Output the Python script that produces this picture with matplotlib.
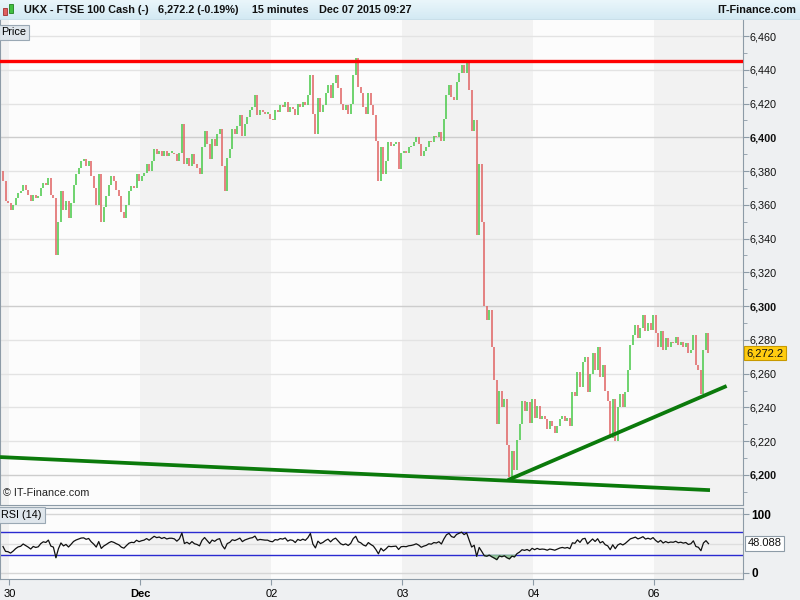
import matplotlib
matplotlib.use("Agg")
import matplotlib.pyplot as plt
import numpy as np

plt.rcParams['font.family'] = ['Liberation Sans', 'DejaVu Sans']

# 15 minute closes, FTSE 100 Cash, 27 Nov (tail) .. 07 Dec 2015
first_open = 6380
closes = [
    6374, 6362, 6361, 6357, 6360, 6364, 6367, 6368, 6372, 6369,
    6366, 6362, 6366, 6364, 6365, 6370, 6373, 6372, 6376, 6366,
    6364, 6330, 6350, 6368, 6357, 6362, 6352, 6361, 6372, 6378,
    6382, 6386, 6387, 6383, 6386, 6377, 6370, 6360, 6378, 6350,
    6359, 6365, 6372, 6377, 6374, 6369, 6365, 6356, 6352, 6360,
    6368, 6371, 6370, 6378, 6374, 6377, 6379, 6384, 6380, 6386,
    6393, 6390, 6392, 6389, 6392, 6389, 6391, 6391, 6390, 6386,
    6391, 6408, 6384, 6388, 6383, 6390, 6384, 6382, 6378, 6394,
    6404, 6396, 6387, 6399, 6395, 6402, 6405, 6383, 6368, 6388,
    6393, 6405, 6402, 6407, 6413, 6401, 6408, 6412, 6416, 6418,
    6425, 6413, 6416, 6415, 6414, 6414, 6411, 6410, 6416, 6415,
    6419, 6418, 6421, 6415, 6418, 6417, 6413, 6420, 6418, 6421,
    6419, 6425, 6437, 6414, 6402, 6423, 6415, 6419, 6426, 6431,
    6423, 6432, 6437, 6429, 6420, 6416, 6419, 6414, 6420, 6437,
    6447, 6430, 6426, 6418, 6414, 6426, 6419, 6413, 6398, 6374,
    6394, 6378, 6386, 6397, 6395, 6396, 6397, 6381, 6391, 6392,
    6391, 6394, 6395, 6397, 6400, 6396, 6389, 6392, 6394, 6398,
    6397, 6401, 6400, 6403, 6398, 6411, 6425, 6431, 6424, 6422,
    6433, 6438, 6443, 6438, 6445, 6428, 6404, 6410, 6342, 6384,
    6350, 6300, 6292, 6298, 6276, 6256, 6230, 6250, 6240, 6245,
    6218, 6199, 6214, 6203, 6221, 6230, 6244, 6238, 6243, 6231,
    6245, 6234, 6241, 6233, 6235, 6233, 6227, 6232, 6229, 6225,
    6229, 6233, 6235, 6232, 6234, 6229, 6249, 6247, 6261, 6252,
    6267, 6270, 6249, 6260, 6272, 6262, 6276, 6258, 6265, 6250,
    6244, 6222, 6245, 6220, 6240, 6248, 6240, 6249, 6262, 6277,
    6283, 6289, 6281, 6287, 6295, 6285, 6290, 6286, 6295, 6284,
    6276, 6285, 6274, 6281, 6276, 6279, 6278, 6282, 6277, 6279,
    6276, 6278, 6272, 6274, 6283, 6265, 6262, 6248, 6274, 6284,
    6272.2,
]

day_starts = [3, 55, 107, 159, 211, 259]
day_labels = ['30', 'Dec', '02', '03', '04', '06']

resistance = 6445
support_x = [-1.2, 280.6]
support_y = [6210.6, 6191.0]
rising_x = [200.4, 287.2]
rising_y = [6197.0, 6252.7]

price_ticks = list(range(6200, 6461, 20))
rsi_period = 14
rsi_last_label = '48.088'
last_label = '6,272.2'
title_parts = ['UKX - FTSE 100 Cash (-)', '6,272.2 (-0.19%)', '15 minutes', 'Dec 07 2015 09:27']
title_x = [24, 158, 252, 319]

# ---------------------------------------------------------------
W, H = 800, 600
fig = plt.figure(figsize=(8, 6), dpi=100)
fig.patch.set_facecolor('#eef0f2')

def fx(px):
    return px / W

def fy(py):
    return 1 - py / H

border = '#8d9ba7'

closes = np.array(closes, dtype=float)
opens = np.concatenate([[first_open], closes[:-1]])
idx = np.arange(len(closes))
xmin, xmax = -1.19, 293.7

# title bar
tax = fig.add_axes([0, fy(20), 1, 20 / H])
grad = np.linspace(0, 1, 50).reshape(-1, 1)
tax.imshow(grad, aspect='auto', extent=[0, W, 0, 20],
           cmap=matplotlib.colors.LinearSegmentedColormap.from_list('t', ['#eaf6fb', '#d2e9f3']))
tax.set_xlim(0, W)
tax.set_ylim(0, 20)
tax.axis('off')
tax.axhline(0.3, color='#a9b6c0', lw=1)
tax.add_patch(plt.Rectangle((3, 5), 4, 7, fc='#e06060', ec='#a03030', lw=0.6))
tax.add_patch(plt.Rectangle((9, 7), 4, 9, fc='#40c040', ec='#208020', lw=0.6))
for txt, x0 in zip(title_parts, title_x):
    tax.text(x0, 10, txt, fontsize=7.8, fontweight='bold', va='center', ha='left', color='#111111')
tax.text(796, 10, 'IT-Finance.com', fontsize=7.8, fontweight='bold', va='center', ha='right',
         color='#111111')

# main price panel
ax = fig.add_axes([0, fy(505), fx(743), (505 - 20) / H])
ax.set_facecolor('#fcfcfc')
ax.set_xlim(xmin, xmax)
ax.set_ylim(6182.2, 6469.5)

# alternating day bands
edges = [xmin] + [d - 0.5 for d in day_starts] + [xmax]
for k in range(len(edges) - 1):
    if k % 2 == 0:
        ax.axvspan(edges[k], edges[k + 1], color='#f2f2f2', zorder=0, lw=0)

for v in price_ticks:
    ax.axhline(v, color='#cdcdcd' if v % 100 == 0 else '#e3e3e3', lw=1, zorder=1)

up = closes >= opens
lo = np.minimum(opens, closes)
hi = np.maximum(opens, closes)
hi = np.where(hi - lo < 0.8, lo + 0.8, hi)
ax.vlines(idx[up], lo[up], hi[up], color='#47c947', lw=1.1, zorder=3)
ax.vlines(idx[~up], lo[~up], hi[~up], color='#e06262', lw=1.1, zorder=3)

ax.axhline(resistance, color='#ff0000', lw=2.4, zorder=4)
ax.plot(support_x, support_y, color='#0b7a0b', lw=2.7, zorder=4, solid_capstyle='butt')
ax.plot(rising_x, rising_y, color='#0b7a0b', lw=2.7, zorder=4, solid_capstyle='butt')

ax.yaxis.tick_right()
ax.set_yticks(price_ticks)
ax.set_yticks(range(6190, 6470, 20), minor=True)
ax.set_yticklabels([f'{v:,}' for v in price_ticks])
for lab, v in zip(ax.get_yticklabels(), price_ticks):
    if v % 100 == 0:
        lab.set_fontweight('bold')
        lab.set_fontsize(8.5)
ax.tick_params(axis='y', which='major', direction='out', length=4, color=border,
               labelsize=7.8, labelcolor='#111111', pad=1)
ax.tick_params(axis='y', which='minor', direction='out', length=3, color=border)
ax.set_xticks([])
for s in ax.spines.values():
    s.set_color(border)
ax.spines['top'].set_visible(False)

ax.text(0.002, 0.985, 'Price', transform=ax.transAxes, fontsize=7.8, va='top', ha='left',
        bbox=dict(boxstyle='square,pad=0.25', fc='#dfe6ec', ec='#9aa8b4', lw=0.8))
ax.text(0.004, 0.015, '© IT-Finance.com', transform=ax.transAxes, fontsize=7.8,
        va='bottom', ha='left', color='#222222')
ax.text(1.005, closes[-1], last_label, transform=ax.get_yaxis_transform(), fontsize=8,
        va='center', ha='left', color='#111111', zorder=6, clip_on=False,
        bbox=dict(boxstyle='square,pad=0.2', fc='#ffcc10', ec='#c89a00', lw=0.8))

# RSI(14), Wilder smoothing, seeded neutral
rsi = np.full(len(closes), np.nan)
ag, al = 2.0, 2.0
prev = first_open
for i, c in enumerate(closes):
    ch = c - prev
    ag = (ag * (rsi_period - 1) + max(ch, 0)) / rsi_period
    al = (al * (rsi_period - 1) + max(-ch, 0)) / rsi_period
    rsi[i] = 100 - 100 / (1 + ag / al)
    prev = c

rax = fig.add_axes([0, fy(579), fx(743), (579 - 508) / H])
rax.set_facecolor('#fcfcfc')
rax.set_xlim(xmin, xmax)
rax.set_ylim(-10.2, 110.2)
for k in range(len(edges) - 1):
    if k % 2 == 0:
        rax.axvspan(edges[k], edges[k + 1], color='#f2f2f2', zorder=0, lw=0)
for v in (0, 100):
    rax.axhline(v, color='#d6d6d6', lw=1, zorder=1)
rax.axhline(50, color='#dedede', lw=1, zorder=1)
rax.axhline(70, color='#2a2ad0', lw=1, zorder=2)
rax.axhline(30, color='#2a2ad0', lw=1, zorder=2)
rax.fill_between(idx, rsi, 30, where=rsi < 30, color='#8cc68c', alpha=0.8, zorder=2, interpolate=True)
rax.fill_between(idx, rsi, 70, where=rsi > 70, color='#d49a9a', alpha=0.8, zorder=2, interpolate=True)
rax.plot(idx, rsi, color='#111111', lw=0.9, zorder=3)

rax.yaxis.tick_right()
rax.set_yticks([0, 100])
rax.set_yticklabels(['0', '100'], fontweight='bold')
rax.tick_params(axis='y', direction='out', length=4, color=border, labelsize=8.5, pad=2)
rax.set_xticks([d - 0.5 for d in day_starts])
rax.set_xticklabels(day_labels)
rax.tick_params(axis='x', direction='out', length=4, color=border, labelsize=8, pad=3)
rax.get_xticklabels()[1].set_fontweight('bold')
for s_ in rax.spines.values():
    s_.set_color(border)
rax.text(0.002, 0.97, 'RSI (14)', transform=rax.transAxes, fontsize=7.8, va='top', ha='left',
         bbox=dict(boxstyle='square,pad=0.25', fc='#dfe6ec', ec='#9aa8b4', lw=0.8))
rax.text(1.006, 50, rsi_last_label, transform=rax.get_yaxis_transform(), fontsize=8,
         va='center', ha='left', color='#111111', clip_on=False,
         bbox=dict(boxstyle='square,pad=0.2', fc='white', ec='#8d9ba7', lw=0.8))

fig.savefig('out.png', dpi=100, facecolor=fig.get_facecolor())
